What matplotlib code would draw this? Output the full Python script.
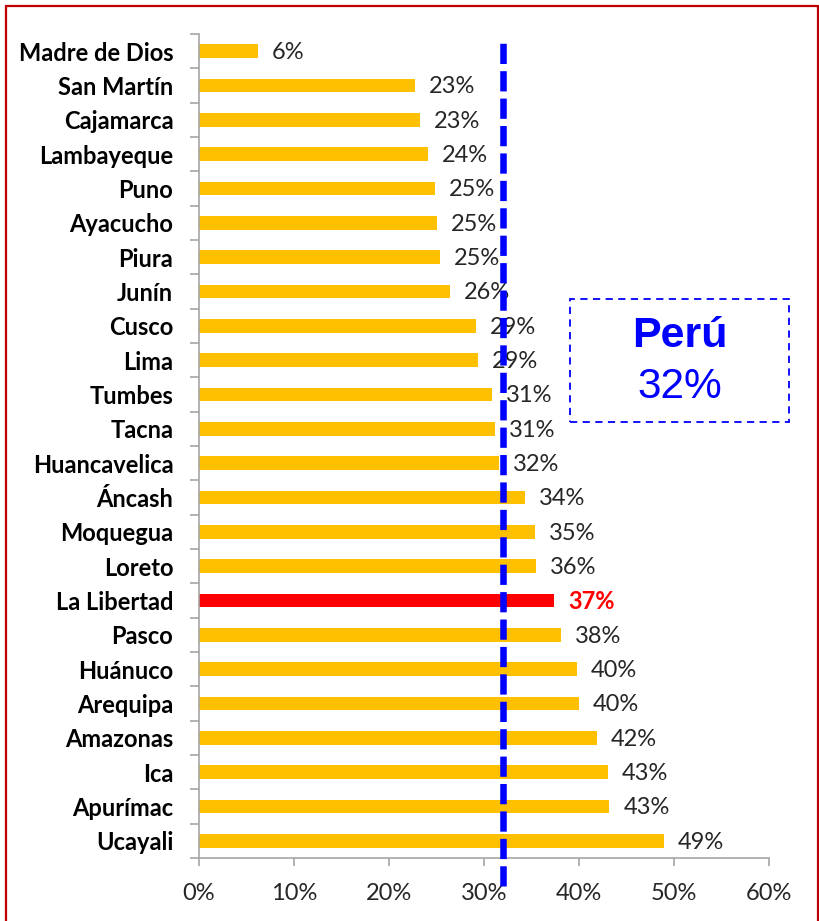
import matplotlib.pyplot as plt
from matplotlib.patches import Rectangle
from matplotlib.ticker import FixedLocator, FuncFormatter

regiones = ['Madre de Dios', 'San Martín', 'Cajamarca', 'Lambayeque', 'Puno',
            'Ayacucho', 'Piura', 'Junín', 'Cusco', 'Lima', 'Tumbes', 'Tacna',
            'Huancavelica', 'Áncash', 'Moquegua', 'Loreto', 'La Libertad',
            'Pasco', 'Huánuco', 'Arequipa', 'Amazonas', 'Ica', 'Apurímac',
            'Ucayali']
valores = [6.2, 22.7, 23.3, 24.1, 24.8, 25.0, 25.4, 26.4, 29.2, 29.4, 30.8,
           31.2, 31.6, 34.3, 35.4, 35.5, 37.4, 38.1, 39.8, 40.0, 41.9, 43.0,
           43.2, 48.9]
destacada = 'La Libertad'
peru = 32
xticks = [0, 10, 20, 30, 40, 50, 60]

AMARILLO = '#FFC000'
ROJO = '#FF0000'
AZUL = '#0000FF'
GRIS = '#A6A6A6'
TEXTO = '#262626'
FS = 17

plt.rcParams['font.family'] = ['Lato', 'DejaVu Sans']

fig = plt.figure(figsize=(8.19, 9.21), dpi=100)
ax = fig.add_axes([0.243, 0.0684, 0.696, 0.8947])

n = len(regiones)
y = list(range(n))
colores = [ROJO if r == destacada else AMARILLO for r in regiones]
ax.barh(y, valores, height=0.4, color=colores, zorder=2)

for i, (r, v) in enumerate(zip(regiones, valores)):
    if r == destacada:
        ax.annotate(f'{round(v)}%', (v, i), xytext=(10, -1), textcoords='offset points',
                    ha='left', va='center', fontsize=FS, color=ROJO, fontweight='bold')
    else:
        ax.annotate(f'{round(v)}%', (v, i), xytext=(10, -1), textcoords='offset points',
                    ha='left', va='center', fontsize=FS, color=TEXTO)

# promedio nacional
ax.axvline(peru, ymin=-0.034, ymax=0.993, color=AZUL, lw=4.7,
           dashes=(3.1, 1.1), clip_on=False, zorder=3)

ax.set_xlim(0, 60)
ax.set_ylim(n - 0.5, -0.5)
ax.xaxis.set_major_locator(FixedLocator(xticks))
ax.xaxis.set_major_formatter(FuncFormatter(lambda v, p: f'{v:.0f}%'))
ax.set_yticks(y)
ax.set_yticklabels(regiones, fontweight='bold', fontsize=FS, color='black')
ax.yaxis.set_minor_locator(FixedLocator([i - 0.5 for i in range(n + 1)]))
ax.tick_params(axis='y', which='major', length=0, pad=18.5)
ax.tick_params(axis='y', which='minor', length=6.5, width=1.2, color=GRIS)
ax.tick_params(axis='x', length=6, width=1.2, color=GRIS, pad=12,
               labelsize=FS, labelcolor=TEXTO)

for s in ['top', 'right']:
    ax.spines[s].set_visible(False)
for s in ['left', 'bottom']:
    ax.spines[s].set_color(GRIS)
    ax.spines[s].set_linewidth(1.2)

# recuadro con el valor nacional
W, H = 819, 921
fig.add_artist(Rectangle((570 / W, 1 - 422 / H), 219 / W, 123 / H,
                         transform=fig.transFigure, fill=False, edgecolor=AZUL,
                         lw=1.3, linestyle=(0, (4, 3))))
fig.text(679.5 / W, 1 - 336 / H, 'Perú', ha='center', va='center',
         fontsize=31, fontweight='bold', color=AZUL, family='Liberation Sans')
fig.text(679.5 / W, 1 - 387 / H, f'{peru}%', ha='center', va='center',
         fontsize=30.5, color=AZUL, family='Liberation Sans')

# marco exterior
fig.add_artist(Rectangle((5.5 / W, -0.05), 812 / W, 1.05 - 6.5 / H,
                         transform=fig.transFigure, fill=False,
                         edgecolor='#C00000', lw=1.6, clip_on=False))

fig.savefig('out.png', dpi=100)
